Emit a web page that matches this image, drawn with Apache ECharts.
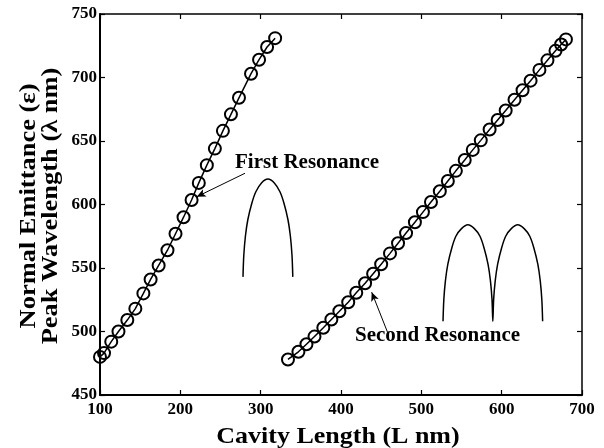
<!DOCTYPE html>
<html>
<head>
<meta charset="utf-8">
<script src="https://cdn.jsdelivr.net/npm/echarts@6/dist/echarts.min.js"></script>
<style>html,body{margin:0;padding:0;background:#fff}#c{width:604px;height:448px}</style>
</head>
<body>
<div id="c"></div>
<script>
// First resonance (cavity length nm, peak wavelength nm)
var firstL = [100, 105, 114, 123, 134, 144, 154, 163, 173, 184, 194, 204, 214, 223, 233, 243, 253, 263, 273, 288, 298, 308, 318];
var firstW = [480, 483, 492, 500, 509, 518, 530, 541, 552, 564, 577, 590, 603.5, 617, 631, 644, 658, 671, 684, 703, 714, 724, 731];
// Second resonance
var secondL = [334, 347, 357, 367, 378, 388, 398, 409, 419, 430, 440, 450, 461, 471, 481, 492, 502, 512, 523, 533, 543, 554, 564, 574, 585, 595, 605, 616, 626, 636, 647, 657, 667, 674, 680];
var secondW = [478, 484, 490, 496, 503, 509.5, 516, 523, 530.5, 538, 545.5, 553, 561.5, 569.5, 577.5, 586, 594, 602, 610.5, 618.5, 626.5, 635, 643, 650.5, 659, 666.5, 674, 682.5, 690, 697.5, 706, 713.5, 721, 726, 730];
// Schematic emittance peak sketches
var arch1X = [278, 279, 281, 284, 289, 294, 301, 309, 317, 324, 329, 334, 337, 339, 340];
var arch1Y = [543, 560, 575, 588, 601, 610, 617, 620, 617, 610, 601, 588, 575, 560, 543];
var arch2X = [527, 528, 530, 533, 538, 543, 550, 558, 566, 573, 578, 583, 586, 588, 589, 590, 592, 595, 600, 605, 612, 620, 628, 635, 640, 645, 648, 650, 651];
var arch2Y = [508, 525, 540, 553, 566, 575, 581, 584, 581, 575, 566, 553, 540, 525, 508, 525, 540, 553, 566, 575, 581, 584, 581, 575, 566, 553, 540, 525, 508];
// Axis ticks
var xMin = 100, xMax = 700, xStep = 100;
var yMin = 450, yMax = 750, yStep = 50;
// Annotation arrows [tail, tip]
var arrow1 = [[280.5, 624.6], [220.4, 606.1]];
var arrow2 = [[458.8, 498], [438.2, 531]];
// Texts
var xTitle = 'Cavity Length (L nm)';
var yTitle = 'Normal Emittance (\u03B5)\nPeak Wavelength (\u03BB nm)';
var label1 = 'First Resonance';
var label2 = 'Second Resonance';

function zip(a, b) { return a.map(function (v, i) { return [v, b[i]]; }); }

var FONT = '"Liberation Serif", "Times New Roman", serif';
var chart = echarts.init(document.getElementById('c'), null, { renderer: 'canvas' });

var tickCommon = { show: true, inside: true, length: 5, lineStyle: { color: '#000', width: 1.2 } };
var markerStyle = { color: 'rgba(0,0,0,0)', borderColor: '#000', borderWidth: 2 };
var option = {
  backgroundColor: '#fff',
  animation: false,
  grid: { left: 100, right: 22, top: 14, bottom: 53, show: false },
  xAxis: [{
    type: 'value', min: xMin, max: xMax, interval: xStep, position: 'bottom',
    axisLine: { show: true, onZero: false, lineStyle: { color: '#000', width: 2 } },
    axisTick: tickCommon,
    splitLine: { show: false },
    axisLabel: { color: '#000', fontFamily: FONT, fontWeight: 'bold', fontSize: 17, margin: 6 }
  }, {
    type: 'value', min: xMin, max: xMax, interval: xStep, position: 'top',
    axisLine: { show: true, onZero: false, lineStyle: { color: '#000', width: 1.5 } },
    axisTick: tickCommon, axisLabel: { show: false }, splitLine: { show: false }
  }],
  yAxis: [{
    type: 'value', min: yMin, max: yMax, interval: yStep, position: 'left',
    axisLine: { show: true, onZero: false, lineStyle: { color: '#000', width: 2 } },
    axisTick: tickCommon,
    splitLine: { show: false },
    axisLabel: { color: '#000', fontFamily: FONT, fontWeight: 'bold', fontSize: 17, margin: 3 }
  }, {
    type: 'value', min: yMin, max: yMax, interval: yStep, position: 'right',
    axisLine: { show: true, onZero: false, lineStyle: { color: '#000', width: 1.5 } },
    axisTick: tickCommon, axisLabel: { show: false }, splitLine: { show: false }
  }],
  series: [{
    type: 'line', data: zip(firstL, firstW), symbol: 'circle', symbolSize: 12,
    lineStyle: { color: '#000', width: 1.5 },
    itemStyle: markerStyle,
    markLine: {
      silent: true, symbol: ['none', 'arrow'], symbolSize: [6, 9],
      label: { show: false },
      lineStyle: { color: '#000', width: 1, type: 'solid' },
      data: [
        [{ coord: arrow1[0] }, { coord: arrow1[1] }],
        [{ coord: arrow2[0] }, { coord: arrow2[1] }]
      ]
    }
  }, {
    type: 'line', data: zip(secondL, secondW), symbol: 'circle', symbolSize: 12,
    lineStyle: { color: '#000', width: 1.5 },
    itemStyle: markerStyle
  }, {
    type: 'line', data: zip(arch1X, arch1Y), symbol: 'none', smooth: 0.3,
    lineStyle: { color: '#000', width: 1.5 }
  }, {
    type: 'line', data: zip(arch2X, arch2Y), symbol: 'none', smooth: 0.3,
    lineStyle: { color: '#000', width: 1.5 }
  }],
  graphic: [{
    type: 'text', x: 40, y: 206, rotation: Math.PI / 2, scaleX: 1.15,
    style: { text: yTitle, fill: '#000',
      font: 'bold 23px ' + FONT, align: 'center', verticalAlign: 'middle', lineHeight: 22 }
  }, {
    type: 'text', x: 338, y: 437, scaleX: 1.13,
    style: { text: xTitle, fill: '#000',
      font: 'bold 23px ' + FONT, align: 'center', verticalAlign: 'middle' }
  }, {
    type: 'text', left: 235, top: 152,
    style: { text: label1, fill: '#000', font: 'bold 21px ' + FONT }
  }, {
    type: 'text', left: 355, top: 325,
    style: { text: label2, fill: '#000', font: 'bold 21px ' + FONT }
  }]
};
chart.setOption(option);
</script>
</body>
</html>
